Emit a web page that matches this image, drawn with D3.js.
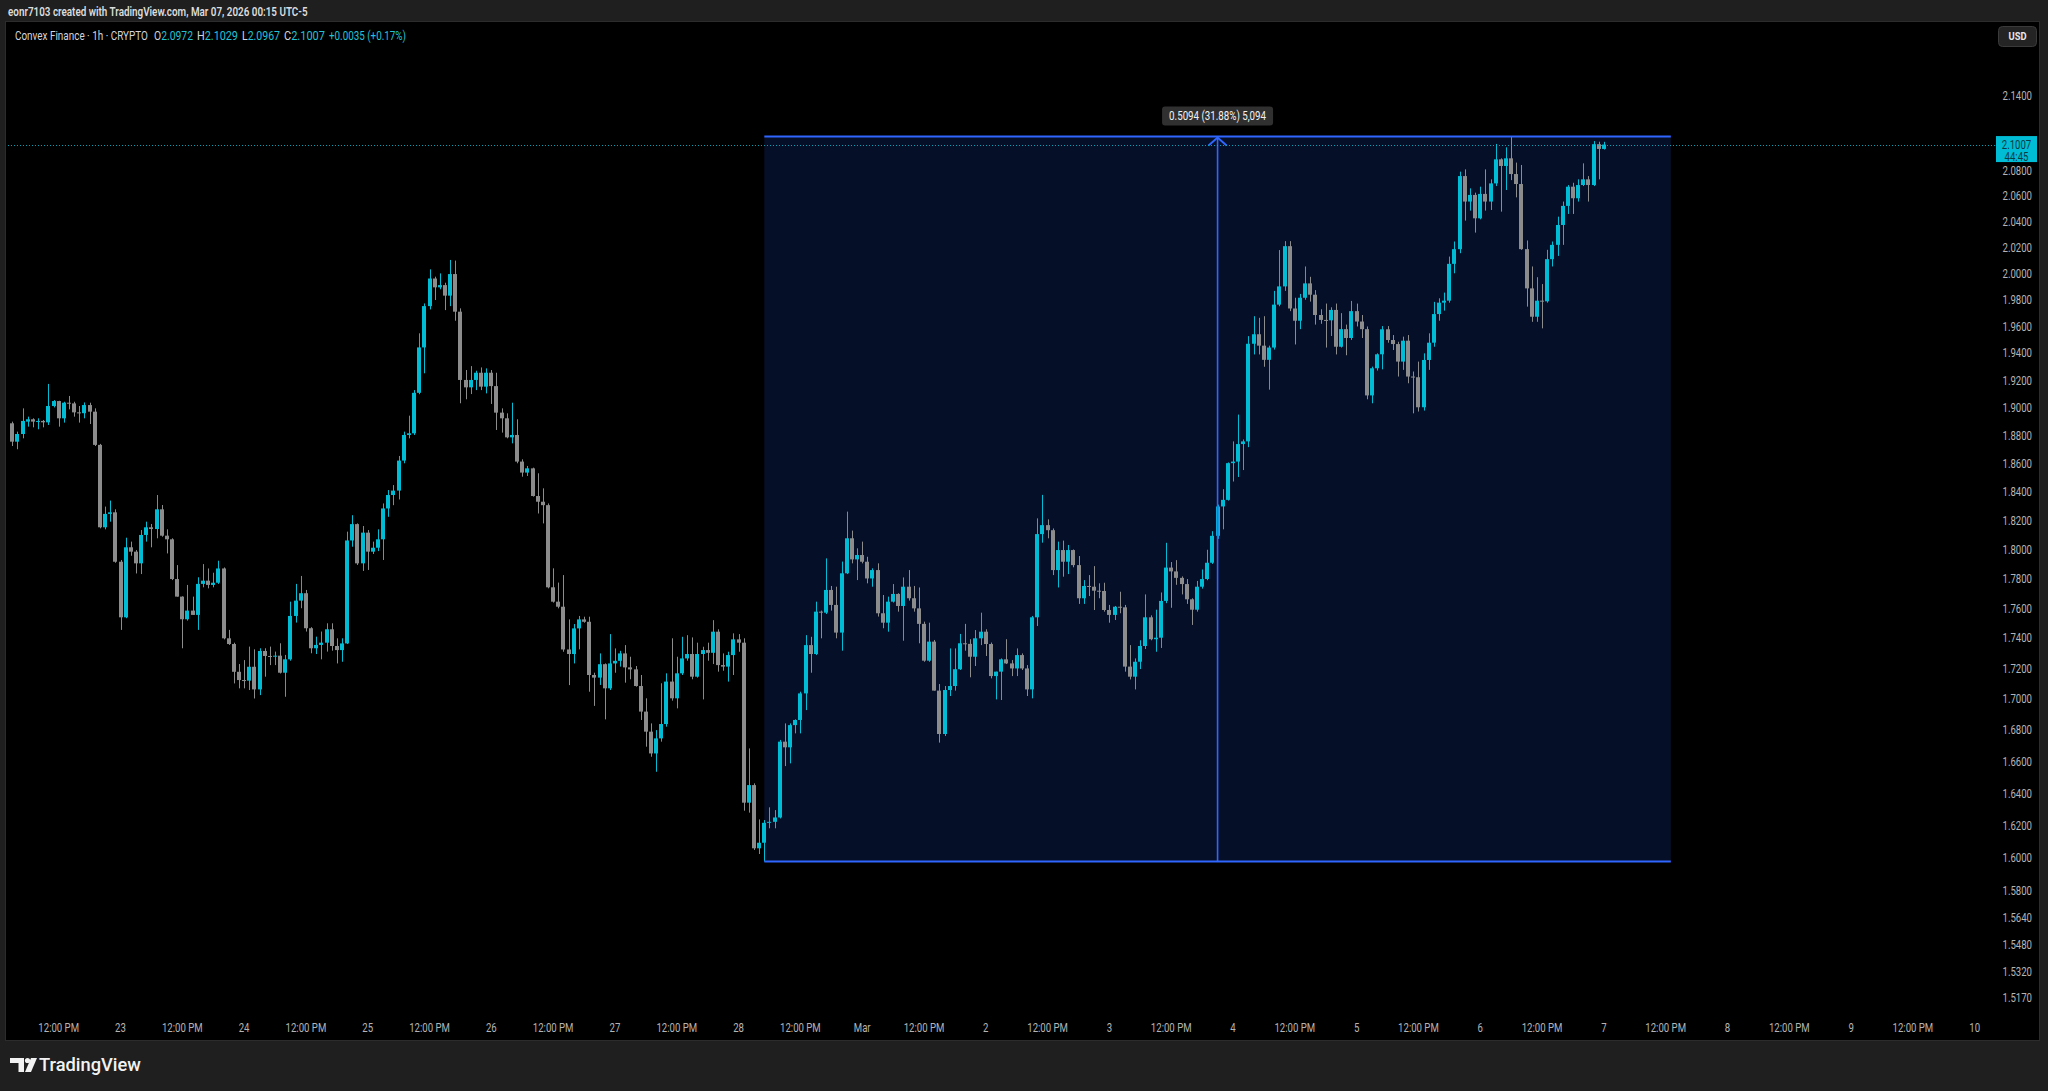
<!DOCTYPE html>
<html><head><meta charset="utf-8">
<script src="https://cdn.jsdelivr.net/npm/d3@7"></script>
<style>
html,body{margin:0;padding:0;background:#1f1f1f;}
svg{display:block;}
text{font-family:Roboto,"Liberation Sans",Arial,sans-serif;}
</style></head><body>
<svg id="c" width="2048" height="1091"></svg>
<script>
// ---------- DATA (hourly candles, Feb 22 03:00 -> Mar 7 00:00) ----------
const firstBarTime = Date.UTC(2026,1,22,3);
const open = [
1.8887,1.8755,1.8810,1.8899,1.8916,1.8899,1.8904,1.8894,1.9012,1.9048,
1.8923,1.9036,1.9031,1.8966,1.8960,1.9019,1.8971,1.8732,1.8152,1.8245,
1.8256,1.7915,1.7539,1.8014,1.7984,1.7904,1.8099,1.8152,1.8140,1.8277,
1.8094,1.8069,1.7797,1.7678,1.7526,1.7584,1.7555,1.7764,1.7786,1.7757,
1.7772,1.7869,1.7399,1.7361,1.7178,1.7124,1.7120,1.7211,1.7063,1.7315,
1.7282,1.7280,1.7284,1.7172,1.7260,1.7548,1.7651,1.7701,1.7466,1.7333,
1.7355,1.7370,1.7459,1.7348,1.7321,1.7365,1.8061,1.8174,1.7904,1.8115,
1.7984,1.8011,1.8069,1.8283,1.8377,1.8408,1.8620,1.8803,1.8815,1.9108,
1.9442,1.9751,1.9960,1.9893,1.9910,1.9830,1.9994,1.9709,1.9202,1.9148,
1.9202,1.9255,1.9153,1.9255,1.9157,1.8964,1.8923,1.8786,1.8803,1.8613,
1.8535,1.8565,1.8370,1.8330,1.8306,1.7741,1.7644,1.7610,1.7325,1.7295,
1.7465,1.7525,1.7509,1.7157,1.7140,1.7228,1.7070,1.7233,1.7250,1.7299,
1.7207,1.7194,1.7085,1.6919,1.6790,1.6651,1.6747,1.6839,1.7114,1.7005,
1.7168,1.7266,1.7295,1.7146,1.7295,1.7321,1.7303,1.7443,1.7222,1.7212,
1.7288,1.7392,1.7370,1.6341,1.6451,1.6059,1.6093,1.6216,1.6222,1.6249,
1.6726,1.6690,1.6832,1.6865,1.7037,1.7354,1.7295,1.7577,1.7570,1.7723,
1.7622,1.7437,1.7836,1.8076,1.7931,1.7961,1.7915,1.7801,1.7858,1.7566,
1.7503,1.7644,1.7696,1.7615,1.7745,1.7667,1.7599,1.7495,1.7251,1.7377,
1.7055,1.6775,1.7059,1.7085,1.7195,1.7366,1.7362,1.7277,1.7399,1.7443,
1.7361,1.7150,1.7179,1.7260,1.7233,1.7200,1.7288,1.7200,1.7063,1.7539,
1.8105,1.8167,1.8132,1.7858,1.7995,1.7915,1.7995,1.7892,1.7667,1.7750,
1.7745,1.7718,1.7716,1.7588,1.7555,1.7610,1.7606,1.7212,1.7146,1.7244,
1.7348,1.7539,1.7393,1.7403,1.7649,1.7875,1.7849,1.7805,1.7763,1.7660,
1.7590,1.7745,1.7797,1.7908,1.8093,1.8297,1.8343,1.8602,1.8613,1.8738,
1.8757,1.9469,1.9540,1.9455,1.9350,1.9441,1.9762,1.9900,2.0208,1.9733,
1.9641,1.9814,1.9923,1.9837,1.9684,1.9647,1.9644,1.9722,1.9447,1.9578,
1.9512,1.9713,1.9635,1.9578,1.9089,1.9288,1.9391,1.9577,1.9497,1.9467,
1.9337,1.9492,1.9227,1.9222,1.9003,1.9349,1.9477,1.9691,1.9777,1.9792,
2.0072,2.0185,2.0756,2.0555,2.0607,2.0424,2.0615,2.0555,2.0698,2.0889,
2.0836,2.0897,2.0772,2.0693,2.0185,1.9885,1.9671,1.9792,1.9787,2.0108,
2.0218,2.0372,2.0521,2.0672,2.0581,2.0685,2.0730,2.0685,2.1010,2.0972];
const high = [
1.8899,1.8827,1.8995,1.8935,1.8923,1.8923,1.8911,1.9173,1.9055,1.9050,
1.9043,1.9085,1.9043,1.9012,1.9038,1.9036,1.8995,1.8739,1.8296,1.8338,
1.8277,1.7927,1.8080,1.8053,1.7995,1.8133,1.8191,1.8175,1.8377,1.8307,
1.8138,1.8076,1.7892,1.7680,1.7757,1.7678,1.7809,1.7899,1.7869,1.7840,
1.7922,1.7876,1.7455,1.7370,1.7229,1.7255,1.7344,1.7326,1.7333,1.7333,
1.7344,1.7311,1.7366,1.7289,1.7644,1.7764,1.7818,1.7723,1.7473,1.7410,
1.7444,1.7499,1.7499,1.7399,1.7399,1.8122,1.8236,1.8179,1.8161,1.8133,
1.8053,1.8138,1.8318,1.8412,1.8447,1.8653,1.8827,1.8942,1.9128,1.9547,
1.9771,2.0030,1.9974,1.9999,1.9928,2.0102,2.0097,1.9734,1.9275,1.9304,
1.9270,1.9294,1.9287,1.9275,1.9255,1.8995,1.8959,1.9036,1.8916,1.8629,
1.8582,1.8570,1.8530,1.8424,1.8318,1.7870,1.7773,1.7824,1.7525,1.7494,
1.7548,1.7543,1.7543,1.7172,1.7299,1.7233,1.7427,1.7332,1.7316,1.7354,
1.7277,1.7216,1.7157,1.7005,1.6843,1.6800,1.7103,1.7168,1.7399,1.7277,
1.7409,1.7420,1.7405,1.7370,1.7343,1.7370,1.7520,1.7459,1.7299,1.7310,
1.7432,1.7427,1.7399,1.6683,1.6462,1.6237,1.6233,1.6312,1.6295,1.6737,
1.6843,1.6843,1.6869,1.7048,1.7420,1.7409,1.7644,1.7584,1.7938,1.7750,
1.7745,1.7916,1.8261,1.8129,1.8007,1.8053,1.7949,1.7870,1.7904,1.7689,
1.7678,1.7763,1.7701,1.7808,1.7858,1.7750,1.7740,1.7510,1.7503,1.7388,
1.7098,1.7085,1.7332,1.7332,1.7428,1.7495,1.7393,1.7454,1.7570,1.7459,
1.7371,1.7179,1.7266,1.7393,1.7255,1.7332,1.7299,1.7222,1.7548,1.8214,
1.8378,1.8207,1.8144,1.8053,1.8060,1.8030,1.7999,1.7954,1.7790,1.7824,
1.7885,1.7768,1.7772,1.7622,1.7615,1.7711,1.7622,1.7354,1.7266,1.7386,
1.7693,1.7552,1.7590,1.7706,1.8045,1.7913,1.7926,1.7815,1.7797,1.7667,
1.7784,1.7862,1.7997,1.8125,1.8310,1.8418,1.8607,1.8757,1.8950,1.8771,
1.9526,1.9675,1.9663,1.9675,1.9455,1.9866,2.0178,2.0247,2.0247,1.9814,
1.9843,2.0052,1.9973,1.9872,1.9727,1.9770,1.9742,1.9770,1.9698,1.9612,
1.9790,1.9770,1.9684,1.9598,1.9300,1.9398,1.9601,1.9601,1.9534,1.9484,
1.9522,1.9534,1.9264,1.9337,1.9398,1.9547,1.9783,1.9810,1.9853,2.0128,
2.0244,2.0791,2.0809,2.0659,2.0625,2.0672,2.0809,2.0730,2.1012,2.0897,
2.0985,2.1072,2.0863,2.0844,2.0252,2.0052,1.9970,1.9918,2.0180,2.0244,
2.0437,2.0555,2.0685,2.0703,2.0730,2.0857,2.0756,2.1035,2.1030,2.1029];
const low = [
1.8724,1.8701,1.8779,1.8863,1.8858,1.8844,1.8858,1.8875,1.9002,1.8863,
1.8892,1.8988,1.8935,1.8892,1.8923,1.8882,1.8724,1.8145,1.8138,1.8191,
1.7908,1.7455,1.7533,1.7956,1.7835,1.7831,1.8053,1.8014,1.8076,1.8087,
1.7972,1.7790,1.7678,1.7333,1.7517,1.7555,1.7455,1.7741,1.7734,1.7741,
1.7764,1.7392,1.7355,1.7102,1.7070,1.7070,1.7059,1.7004,1.7026,1.7146,
1.7222,1.7222,1.7167,1.7015,1.7251,1.7504,1.7600,1.7444,1.7300,1.7295,
1.7260,1.7311,1.7317,1.7233,1.7244,1.7361,1.8018,1.7893,1.7852,1.7859,
1.7968,1.7988,1.7927,1.8225,1.8306,1.8346,1.8601,1.8779,1.8803,1.9098,
1.9251,1.9726,1.9797,1.9878,1.9721,1.9751,1.9641,1.9032,1.9061,1.9099,
1.9128,1.9128,1.9104,1.9027,1.8839,1.8820,1.8779,1.8743,1.8601,1.8506,
1.8511,1.8366,1.8248,1.8179,1.7734,1.7638,1.7599,1.7310,1.7091,1.7233,
1.7326,1.7503,1.7048,1.6956,1.7092,1.6869,1.7059,1.7172,1.7212,1.7107,
1.7129,1.7081,1.6865,1.6694,1.6630,1.6535,1.6726,1.6822,1.6990,1.6940,
1.7157,1.7251,1.7129,1.7140,1.6998,1.7251,1.7229,1.7179,1.7185,1.7114,
1.7157,1.7310,1.6291,1.6279,1.6049,1.6024,1.5978,1.6182,1.6182,1.6243,
1.6571,1.6588,1.6779,1.6779,1.6929,1.7172,1.7288,1.7399,1.7561,1.7584,
1.7399,1.7317,1.7831,1.7904,1.7790,1.7904,1.7768,1.7745,1.7544,1.7466,
1.7443,1.7638,1.7577,1.7383,1.7651,1.7577,1.7366,1.7244,1.7244,1.7055,
1.6720,1.6762,1.7020,1.7055,1.7190,1.7317,1.7142,1.7216,1.7354,1.7282,
1.7135,1.6998,1.6994,1.7229,1.7150,1.7150,1.7190,1.7020,1.7005,1.7481,
1.8046,1.8076,1.7824,1.7740,1.7813,1.7831,1.7877,1.7629,1.7629,1.7682,
1.7588,1.7667,1.7577,1.7503,1.7521,1.7566,1.7179,1.7128,1.7063,1.7196,
1.7328,1.7386,1.7310,1.7335,1.7634,1.7603,1.7758,1.7693,1.7629,1.7488,
1.7577,1.7732,1.7789,1.7900,1.8072,1.8138,1.8338,1.8472,1.8504,1.8553,
1.8716,1.9390,1.9390,1.9299,1.9131,1.9426,1.9750,1.9866,1.9713,1.9464,
1.9578,1.9799,1.9785,1.9612,1.9618,1.9441,1.9527,1.9390,1.9441,1.9384,
1.9498,1.9598,1.9512,1.9061,1.9032,1.9271,1.9280,1.9477,1.9423,1.9227,
1.9276,1.9178,1.8959,1.8972,1.8979,1.9276,1.9447,1.9641,1.9717,1.9777,
2.0000,2.0154,2.0406,2.0484,2.0313,2.0416,2.0484,2.0489,2.0677,2.0476,
2.0646,2.0724,2.0588,2.0180,1.9747,1.9633,1.9633,1.9584,1.9777,2.0052,
2.0133,2.0218,2.0458,2.0458,2.0555,2.0677,2.0555,2.0677,2.0730,2.0967];
const close = [
1.8755,1.8810,1.8904,1.8916,1.8899,1.8904,1.8894,1.9012,1.9048,1.8923,
1.9036,1.9031,1.8966,1.8960,1.9019,1.8971,1.8732,1.8152,1.8245,1.8256,
1.7915,1.7539,1.8014,1.7984,1.7904,1.8099,1.8152,1.8140,1.8277,1.8094,
1.8069,1.7797,1.7678,1.7526,1.7584,1.7555,1.7764,1.7786,1.7757,1.7772,
1.7869,1.7399,1.7361,1.7178,1.7124,1.7120,1.7211,1.7063,1.7315,1.7282,
1.7280,1.7284,1.7172,1.7260,1.7548,1.7651,1.7701,1.7466,1.7333,1.7355,
1.7370,1.7459,1.7348,1.7321,1.7365,1.8061,1.8174,1.7904,1.8115,1.7984,
1.8011,1.8069,1.8283,1.8377,1.8408,1.8620,1.8803,1.8815,1.9108,1.9442,
1.9751,1.9960,1.9893,1.9910,1.9830,1.9994,1.9709,1.9202,1.9148,1.9202,
1.9255,1.9153,1.9255,1.9157,1.8964,1.8923,1.8786,1.8803,1.8613,1.8535,
1.8565,1.8370,1.8330,1.8306,1.7741,1.7644,1.7610,1.7325,1.7295,1.7465,
1.7525,1.7509,1.7157,1.7140,1.7228,1.7070,1.7233,1.7250,1.7299,1.7207,
1.7194,1.7085,1.6919,1.6790,1.6651,1.6747,1.6839,1.7114,1.7005,1.7168,
1.7266,1.7295,1.7146,1.7295,1.7321,1.7303,1.7443,1.7222,1.7212,1.7288,
1.7392,1.7370,1.6341,1.6451,1.6059,1.6093,1.6216,1.6222,1.6249,1.6726,
1.6690,1.6832,1.6865,1.7037,1.7354,1.7295,1.7577,1.7570,1.7723,1.7622,
1.7437,1.7836,1.8076,1.7931,1.7961,1.7915,1.7801,1.7858,1.7566,1.7503,
1.7644,1.7696,1.7615,1.7745,1.7667,1.7599,1.7495,1.7251,1.7377,1.7055,
1.6775,1.7059,1.7085,1.7195,1.7366,1.7362,1.7277,1.7399,1.7443,1.7361,
1.7150,1.7179,1.7260,1.7233,1.7200,1.7288,1.7200,1.7063,1.7539,1.8105,
1.8167,1.8132,1.7858,1.7995,1.7915,1.7995,1.7892,1.7667,1.7750,1.7745,
1.7718,1.7716,1.7588,1.7555,1.7610,1.7606,1.7212,1.7146,1.7244,1.7348,
1.7539,1.7393,1.7403,1.7649,1.7875,1.7849,1.7805,1.7763,1.7660,1.7590,
1.7745,1.7797,1.7908,1.8093,1.8297,1.8343,1.8602,1.8613,1.8738,1.8757,
1.9469,1.9540,1.9455,1.9350,1.9441,1.9762,1.9900,2.0208,1.9733,1.9641,
1.9814,1.9923,1.9837,1.9684,1.9647,1.9644,1.9722,1.9447,1.9578,1.9512,
1.9713,1.9635,1.9578,1.9089,1.9288,1.9391,1.9577,1.9497,1.9467,1.9337,
1.9492,1.9227,1.9222,1.9003,1.9349,1.9477,1.9691,1.9777,1.9792,2.0072,
2.0185,2.0756,2.0555,2.0607,2.0424,2.0615,2.0555,2.0698,2.0889,2.0836,
2.0897,2.0772,2.0693,2.0185,1.9885,1.9671,1.9792,1.9787,2.0108,2.0218,
2.0372,2.0521,2.0672,2.0581,2.0685,2.0730,2.0685,2.1010,2.0972,2.1007];

const yTickValues = [2.14,2.08,2.06,2.04,2.02,2.00,1.98,1.96,1.94,1.92,1.90,1.88,1.86,1.84,1.82,1.80,
  1.78,1.76,1.74,1.72,1.70,1.68,1.66,1.64,1.62,1.60,1.58,1.564,1.548,1.532,1.517];
const xTickStart = Date.UTC(2026,1,22,12);
const xTickLabels = ["12:00 PM","23","12:00 PM","24","12:00 PM","25","12:00 PM","26","12:00 PM","27",
  "12:00 PM","28","12:00 PM","Mar","12:00 PM","2","12:00 PM","3","12:00 PM","4","12:00 PM","5",
  "12:00 PM","6","12:00 PM","7","12:00 PM","8","12:00 PM","9","12:00 PM","10"];
const lastPrice = 2.1007, countdown = "44:45";
const measureStartBar = 146, measureEndBar = 322;
const measureLow = 1.5978, measureHigh = 2.1072;
const measureText = "0.5094 (31.88%) 5,094";
const headerText = "eonr7103 created with TradingView.com, Mar 07, 2026 00:15 UTC-5";
const legendName = "Convex Finance · 1h · CRYPTO";
const legendOHLC = [["O","2.0972"],["H","2.1029"],["L","2.0967"],["C","2.1007"]];
const legendChange = "+0.0035 (+0.17%)";

// ---------- STYLE ----------
const UP = "#00bcd4", DN = "#8c8c8c", BLUE = "#2f66ff", AXIS_TXT = "#b4b4b4";
const W = 2048, H = 1091;
const HOUR = 3600e3;

const svg = d3.select("#c");
svg.append("rect").attr("width", W).attr("height", H).attr("fill", "#1f1f1f");
svg.append("rect").attr("x", 5.5).attr("y", 21.5).attr("width", 2034).attr("height", 1019)
  .attr("fill", "#000").attr("stroke", "#2c2c2c");

const x = d3.scaleUtc()
  .domain([new Date(Date.UTC(2026,1,23)), new Date(Date.UTC(2026,2,10))])
  .range([120.5, 1974.7]);
const y = d3.scaleLog().domain([1.517, 2.14]).range([997.5, 96]);

const bars = open.map((o, i) => ({ t: new Date(firstBarTime + i*HOUR), o, h: high[i], l: low[i], c: close[i] }));

// text fitted to a width by horizontal scaling (no textLength)
function fitText(parent, x0, y0, width, anchor, build) {
  const g = parent.append("g").attr("transform", `translate(${x0},${y0})`);
  const t = g.append("text").attr("text-anchor", anchor);
  build(t);
  const len = t.node().getComputedTextLength();
  if (len > 0) t.attr("transform", `scale(${width/len},1)`);
  return t;
}

svg.append("clipPath").attr("id", "clip").append("rect")
  .attr("x", 6).attr("y", 22).attr("width", 1990).attr("height", 990);
const plot = svg.append("g").attr("clip-path", "url(#clip)");

// measure box fill
const bx0 = x(new Date(firstBarTime + measureStartBar*HOUR));
const bx1 = x(new Date(firstBarTime + measureEndBar*HOUR));
const byT = y(measureHigh), byB = y(measureLow);
plot.append("rect").attr("x", bx0).attr("y", byT).attr("width", bx1 - bx0).attr("height", byB - byT)
  .attr("fill", "#060f28");

// candles
const cg = plot.append("g");
const cand = cg.selectAll("g").data(bars).join("g")
  .attr("fill", d => d.c >= d.o ? UP : DN);
cand.append("rect")
  .attr("x", d => Math.round(x(d.t) - 2) + 2).attr("width", 1)
  .attr("y", d => y(d.h)).attr("height", d => Math.max(1, y(d.l) - y(d.h)));
cand.append("rect")
  .attr("x", d => Math.round(x(d.t) - 2)).attr("width", 4)
  .attr("y", d => y(Math.max(d.o, d.c)))
  .attr("height", d => Math.max(1, y(Math.min(d.o, d.c)) - y(Math.max(d.o, d.c))));

// last price dotted line
svg.append("line").attr("x1", 8).attr("x2", 1996).attr("y1", Math.round(y(lastPrice)) + 0.5).attr("y2", Math.round(y(lastPrice)) + 0.5)
  .attr("stroke", UP).attr("stroke-width", 1).attr("stroke-dasharray", "1,2").attr("opacity", 0.85);

// measure lines
const bxm = (bx0 + bx1) / 2;
[byT, byB].forEach(yy => {
  plot.append("line").attr("x1", bx0).attr("x2", bx1).attr("y1", yy).attr("y2", yy)
    .attr("stroke", BLUE).attr("stroke-width", 2);
});
plot.append("line").attr("x1", bxm).attr("x2", bxm).attr("y1", byB).attr("y2", byT + 1)
  .attr("stroke", BLUE).attr("stroke-width", 1.6);
plot.append("polyline").attr("points", `${bxm-9},${byT+9} ${bxm},${byT+1} ${bxm+9},${byT+9}`)
  .attr("fill", "none").attr("stroke", BLUE).attr("stroke-width", 2);
// measure label
svg.append("rect").attr("x", bxm - 55.5).attr("y", byT - 30).attr("width", 111).attr("height", 19).attr("rx", 3)
  .attr("fill", "#303030");
fitText(svg, bxm, byT - 16.5, 97, "middle", t => t.attr("font-size", 12).attr("fill", "#f0f0f0").text(measureText));

// y axis labels
const yg = svg.append("g");
yTickValues.forEach(v => {
  yg.append("g").attr("transform", `translate(2032,${y(v)})`)
    .append("text").attr("transform", "scale(0.8,1)").attr("text-anchor", "end").attr("dy", "0.36em")
    .attr("font-size", 12).attr("fill", AXIS_TXT).text(d3.format(".4f")(v));
});

// x axis labels
const xg = svg.append("g");
xTickLabels.forEach((lab, i) => {
  const t = new Date(xTickStart + i*12*HOUR);
  xg.append("g").attr("transform", `translate(${x(t)},1028)`)
    .append("text").attr("transform", "scale(0.8,1)").attr("text-anchor", "middle").attr("dy", "0.36em")
    .attr("font-size", 12).attr("fill", AXIS_TXT).text(lab);
});

// current price label
const ly = y(lastPrice);
svg.append("rect").attr("x", 1996).attr("y", ly - 8.5).attr("width", 41).attr("height", 26).attr("fill", UP);
[[lastPrice.toFixed(4), 0], [countdown, 12]].forEach(([s, dy]) => {
  svg.append("g").attr("transform", `translate(2016.5,${ly + dy})`)
    .append("text").attr("transform", "scale(0.8,1)").attr("text-anchor", "middle").attr("dy", "0.36em")
    .attr("font-size", 12).attr("fill", "#0a3a45").text(s);
});

// USD button
svg.append("rect").attr("x", 1998.5).attr("y", 26.5).attr("width", 38).attr("height", 20).attr("rx", 4)
  .attr("fill", "#242424").attr("stroke", "#3a3a3a");
svg.append("g").attr("transform", "translate(2017.5,36.5)")
  .append("text").attr("transform", "scale(0.85,1)").attr("text-anchor", "middle").attr("dy", "0.36em")
  .attr("font-size", 11).attr("font-weight", 700).attr("fill", "#e6e6e6").text("USD");

// header
fitText(svg, 8, 16, 300, "start", t => t.attr("font-size", 12).attr("font-weight", 600).attr("fill", "#dcdcdc").text(headerText));

// legend
const LEG_Y = 39.5;
fitText(svg, 15, LEG_Y, 133, "start", t => t.attr("font-size", 12).attr("fill", "#d1d4dc").text(legendName));
const legX = [154, 197, 242, 284], legW = [39, 41, 38, 41];
legendOHLC.forEach(([k, v], i) => {
  fitText(svg, legX[i], LEG_Y, legW[i], "start", t => {
    t.attr("font-size", 12);
    t.append("tspan").attr("fill", "#d1d4dc").text(k);
    t.append("tspan").attr("fill", "#22c1d6").text(v);
  });
});
fitText(svg, 329, LEG_Y, 77, "start", t => t.attr("font-size", 12).attr("fill", "#22c1d6").text(legendChange));

// TradingView logo
const lg = svg.append("g").attr("fill", "#f2f2f2");
lg.append("path").attr("d", "M10,1058 H24 V1072 H18.5 V1063 H10 Z");
lg.append("circle").attr("cx", 27.5).attr("cy", 1060.5).attr("r", 2.6);
lg.append("path").attr("d", "M31,1058 H37 L31,1072 H25 Z");
fitText(svg, 39, 1071, 102, "start", t => t.attr("font-size", 19).attr("font-weight", 500).attr("fill", "#f2f2f2").text("TradingView"));
</script>
</body></html>
